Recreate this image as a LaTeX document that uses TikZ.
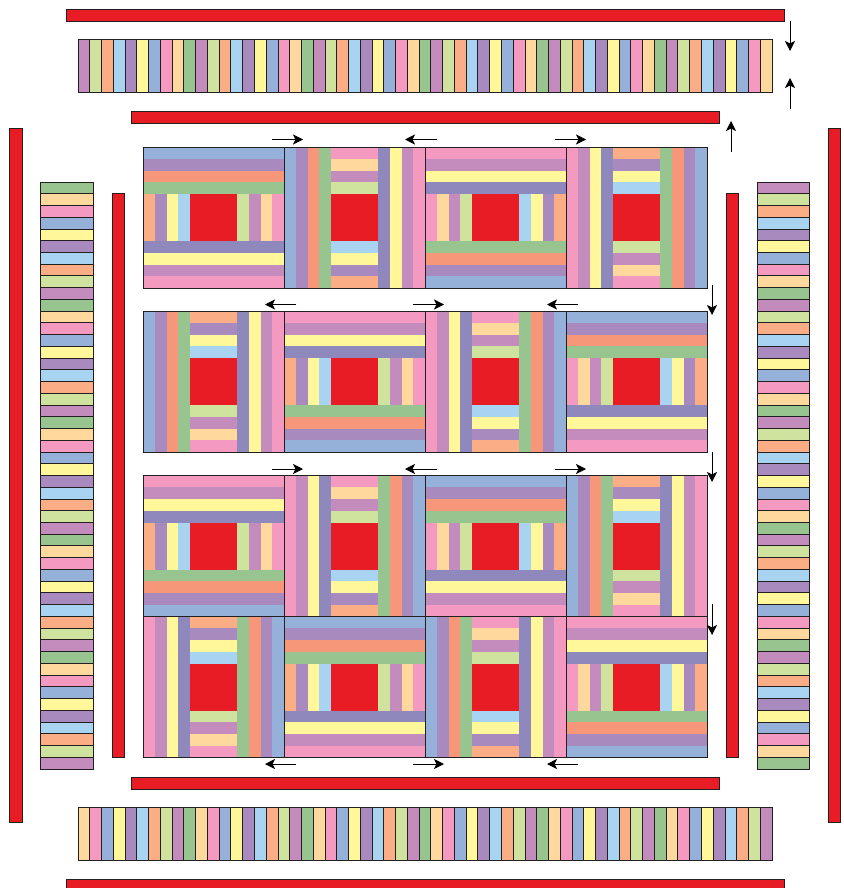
\documentclass[tikz,border=0pt]{standalone}
\usetikzlibrary{arrows.meta}
\definecolor{qblue}{HTML}{95B0D9}
\definecolor{qpurple}{HTML}{A98ABF}
\definecolor{qorange}{HTML}{F7977A}
\definecolor{qgreen}{HTML}{98C490}
\definecolor{qapricot}{HTML}{FBAD86}
\definecolor{qyellow}{HTML}{FFF79A}
\definecolor{qlblue}{HTML}{A8D3F1}
\definecolor{qlgreen}{HTML}{CFE39E}
\definecolor{qmauve}{HTML}{C48BBD}
\definecolor{qpeach}{HTML}{FED89C}
\definecolor{qpink}{HTML}{F49AC1}
\definecolor{qviolet}{HTML}{8E88BC}
\definecolor{qred}{HTML}{E81C24}
\definecolor{qdark}{HTML}{231F20}
\newcommand\cyccol[1]{\ifcase#1 qmauve\or qlgreen\or qapricot\or qlblue\or qpurple\or qyellow\or qblue\or qpink\or qpeach\or qgreen\fi}
\newcommand\qbody{%
\fill[qblue] (-6,-6) rectangle (6,-5);
\fill[qpurple] (-6,-5) rectangle (6,-4);
\fill[qorange] (-6,-4) rectangle (6,-3);
\fill[qgreen] (-6,-3) rectangle (6,-2);
\fill[qapricot] (-6,-2) rectangle (-5,2);
\fill[qpurple] (-5,-2) rectangle (-4,2);
\fill[qyellow] (-4,-2) rectangle (-3,2);
\fill[qlblue] (-3,-2) rectangle (-2,2);
\fill[qred] (-2,-2) rectangle (2,2);
\fill[qlgreen] (2,-2) rectangle (3,2);
\fill[qmauve] (3,-2) rectangle (4,2);
\fill[qpeach] (4,-2) rectangle (5,2);
\fill[qpink] (5,-2) rectangle (6,2);
\fill[qviolet] (-6,2) rectangle (6,3);
\fill[qyellow] (-6,3) rectangle (6,4);
\fill[qmauve] (-6,4) rectangle (6,5);
\fill[qpink] (-6,5) rectangle (6,6);
\draw[blkline] (-6,-6) rectangle (6,6);
}
\newcommand\placeblk[3]{\begin{scope}[shift={(#1,#2)},#3,scale=11.75]\qbody\end{scope}}
\begin{document}
\begin{tikzpicture}[x=1pt,y=-1pt,
  redbar/.style={fill=qred,draw=qdark,line width=0.9pt},
  seg/.style={draw=qdark,line width=0.9pt},
  blkline/.style={draw=qdark,line width=1pt},
  arr/.style={draw=black,line width=0.9pt,-{Stealth[length=10pt,width=10pt,inset=2.5pt]}}]
\useasboundingbox (0,0) rectangle (843,888);
% red bars
\draw[redbar] (66,9) rectangle (784,21);
\draw[redbar] (131,111) rectangle (719,123);
\draw[redbar] (9,128) rectangle (22,822);
\draw[redbar] (112,193) rectangle (124,757);
\draw[redbar] (726,193) rectangle (738,757);
\draw[redbar] (828,128) rectangle (840,822);
\draw[redbar] (131,777) rectangle (719,789);
\draw[redbar] (66,879) rectangle (784,895);
% pieced strips
\foreach \i in {0,...,58}{
  \pgfmathtruncatemacro\m{mod(\i,10)}
  \edef\cc{\cyccol{\m}}
  \draw[seg,fill=\cc] ({78+\i*11.763},39.5) rectangle ({78+(\i+1)*11.763},92);
  \pgfmathtruncatemacro\n{mod(58-\i,10)}
  \edef\cd{\cyccol{\n}}
  \draw[seg,fill=\cd] ({78+\i*11.763},807.5) rectangle ({78+(\i+1)*11.763},860);
}
\foreach \k in {0,...,49}{
  \pgfmathtruncatemacro\m{9-mod(\k,10)}
  \edef\cc{\cyccol{\m}}
  \draw[seg,fill=\cc] (40,{182+\k*11.74}) rectangle (93,{182+(\k+1)*11.74});
  \pgfmathtruncatemacro\n{mod(\k,10)}
  \edef\cd{\cyccol{\n}}
  \draw[seg,fill=\cd] (757,{182+\k*11.74}) rectangle (809,{182+(\k+1)*11.74});
}
% blocks
\placeblk{213.5}{217.5}{cm={1,0,0,1,(0,0)}}
\placeblk{354.5}{217.5}{rotate=90}
\placeblk{495.5}{217.5}{cm={-1,0,0,-1,(0,0)}}
\placeblk{636.5}{217.5}{rotate=-90}
\placeblk{213.5}{381.5}{cm={0,-1,-1,0,(0,0)}}
\placeblk{354.5}{381.5}{cm={1,0,0,-1,(0,0)}}
\placeblk{495.5}{381.5}{cm={0,1,1,0,(0,0)}}
\placeblk{636.5}{381.5}{cm={-1,0,0,1,(0,0)}}
\placeblk{213.5}{546}{cm={1,0,0,-1,(0,0)}}
\placeblk{354.5}{546}{cm={0,1,1,0,(0,0)}}
\placeblk{495.5}{546}{cm={-1,0,0,1,(0,0)}}
\placeblk{636.5}{546}{cm={0,-1,-1,0,(0,0)}}
\placeblk{213.5}{687}{rotate=-90}
\placeblk{354.5}{687}{cm={1,0,0,1,(0,0)}}
\placeblk{495.5}{687}{rotate=90}
\placeblk{636.5}{687}{cm={-1,0,0,-1,(0,0)}}
% arrows
\coordinate (a1s) at (790,21); \coordinate (a1e) at (790,51);
\coordinate (a2s) at (790,109); \coordinate (a2e) at (790,78);
\coordinate (a3s) at (731,152); \coordinate (a3e) at (731,121);
\draw[arr] (a1s) -- (a1e);
\draw[arr] (a2s) -- (a2e);
\draw[arr] (a3s) -- (a3e);
\foreach \y in {139.5,469}{
  \draw[arr] (272,\y) -- (303,\y);
  \draw[arr] (437,\y) -- (405,\y);
  \draw[arr] (555,\y) -- (586,\y);
}
\foreach \y in {304.5,764}{
  \draw[arr] (296,\y) -- (265,\y);
  \draw[arr] (413,\y) -- (444,\y);
  \draw[arr] (578,\y) -- (547,\y);
}
\draw[arr] (712,285) -- (712,315);
\draw[arr] (712,452) -- (712,482);
\draw[arr] (712,604) -- (712,635);
\end{tikzpicture}
\end{document}
